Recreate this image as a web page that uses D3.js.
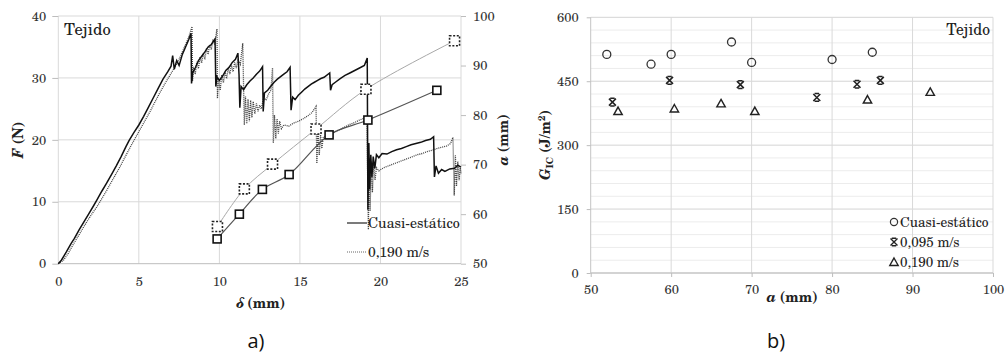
<!DOCTYPE html>
<html>
<head>
<meta charset="utf-8">
<script src="https://cdn.jsdelivr.net/npm/d3@7"></script>
<style>
  body { margin: 0; background: #fff; }
</style>
</head>
<body>
<svg id="chart" width="1006" height="358"></svg>
<script>
// ---- chart a) : F - delta curves (left axis) and crack length a (right axis)
const deltaTicks = [0, 5, 10, 15, 20, 25];
const fTicks = [0, 10, 20, 30, 40];
const aTicks = [50, 60, 70, 80, 90, 100];

// Cuasi-estático, [delta (mm), F (N)]
const cuasiF = [[0,0],[0.2,0.6],[0.5,1.9],[0.8,3.3],[1.0,4.1],[1.3,5.5],[1.6,6.8],[1.9,8.1],[2.2,9.4],[2.4,10.3],
  [2.7,11.7],[3.0,13.0],[3.3,14.4],[3.6,15.8],[3.9,17.3],[4.2,18.9],[4.4,19.9],[4.7,21.2],[5.0,22.4],[5.3,23.8],
  [5.6,25.3],[5.9,26.8],[6.2,28.3],[6.5,29.8],[6.8,31.0],[7.0,31.9],[7.1,33.6],[7.2,31.4],[7.35,32.8],[7.5,32.0],
  [7.7,33.8],[7.9,35.0],[8.1,36.2],[8.24,37.2],[8.27,29.1],[8.35,30.9],[8.5,31.6],[8.7,32.8],[8.9,33.5],[9.1,34.2],
  [9.3,35.0],[9.5,35.4],[9.73,36.3],[9.78,28.6],[9.85,30.2],[10.0,29.6],[10.2,30.3],[10.4,31.2],[10.6,31.7],[10.8,32.5],
  [11.0,33.0],[11.15,34.0],[11.22,30.5],[11.27,25.2],[11.35,28.6],[11.5,28.1],[11.7,28.9],[11.9,29.5],[12.1,30.0],[12.3,30.6],
  [12.5,31.1],[12.68,31.8],[12.72,24.6],[12.8,27.6],[13.0,28.0],[13.2,28.7],[13.4,29.3],[13.6,29.8],[13.8,30.2],[14.0,30.6],
  [14.2,31.0],[14.39,31.7],[14.45,24.8],[14.55,26.9],[14.7,26.5],[14.9,27.2],[15.1,27.7],[15.3,28.2],[15.5,28.6],[15.7,29.0],
  [15.9,29.3],[16.1,29.6],[16.3,29.9],[16.5,30.1],[16.85,30.8],[16.9,28.0],[17.0,28.9],[17.2,29.3],[17.5,29.9],[17.8,30.4],
  [18.1,30.8],[18.4,31.2],[18.7,31.6],[19.0,32.0],[19.18,33.2],[19.22,8.7],[19.28,19.5],[19.33,12.0],[19.4,17.6],[19.47,14.0],
  [19.55,17.3],[19.65,15.4],[19.75,17.6],[19.9,17.1],[20.1,17.8],[20.4,17.7],[20.7,18.1],[21.0,18.4],[21.3,18.6],[21.6,18.9],
  [21.9,19.2],[22.2,19.4],[22.5,19.6],[22.8,19.9],[23.1,20.1],[23.3,20.5],[23.35,14.0],[23.45,15.8],[23.6,14.6],[23.8,15.2],
  [24.0,14.9],[24.3,15.3],[24.6,15.4],[24.8,15.9],[25.0,15.6]];

// 0,190 m/s, [delta (mm), F (N)]
const rapidF = [[0,0],[0.3,0.5],[0.6,1.6],[0.9,3.0],[1.2,4.3],[1.5,5.6],[1.8,6.9],[2.1,8.1],[2.4,9.2],[2.7,10.5],
  [3.0,11.8],[3.3,13.2],[3.6,14.6],[3.9,16.0],[4.2,17.5],[4.5,19.0],[4.8,20.4],[5.1,21.8],[5.4,23.2],[5.7,24.6],
  [6.0,26.1],[6.3,27.6],[6.6,29.0],[6.9,30.3],[7.2,31.6],[7.5,33.0],[7.8,34.8],[8.0,36.0],[8.15,37.0],[8.3,38.3],
  [8.33,29.5],[8.4,31.8],[8.5,30.6],[8.6,32.6],[8.7,31.5],[8.8,33.4],[8.9,32.4],[9.0,34.0],[9.1,33.0],[9.2,34.8],
  [9.3,33.8],[9.4,35.4],[9.5,34.6],[9.6,36.2],[9.7,35.4],[9.85,37.9],[9.88,26.7],[9.95,29.8],[10.05,28.0],[10.15,30.5],
  [10.25,29.2],[10.35,31.0],[10.45,29.9],[10.55,31.6],[10.65,30.6],[10.75,32.1],[10.85,31.0],[10.95,32.5],[11.05,31.6],[11.15,33.0],
  [11.3,32.2],[11.45,35.6],[11.55,22.4],[11.62,27.0],[11.7,22.6],[11.78,26.6],[11.86,23.0],[11.94,26.4],[12.02,23.6],[12.1,26.2],
  [12.2,24.2],[12.3,25.9],[12.4,24.6],[12.5,25.6],[12.6,25.0],[12.75,26.8],[12.9,26.4],[13.05,27.4],[13.2,28.0],[13.3,31.6],
  [13.35,19.5],[13.42,24.0],[13.5,20.2],[13.58,23.4],[13.66,21.0],[13.74,23.0],[13.85,21.8],[14.0,22.4],[14.3,22.2],[14.6,22.7],
  [14.9,23.0],[15.2,23.4],[15.5,23.9],[15.75,24.4],[15.9,25.0],[16.0,25.4],[16.05,16.2],[16.12,21.5],[16.2,17.5],[16.28,20.8],
  [16.36,18.6],[16.45,20.4],[16.6,20.6],[16.9,20.9],[17.2,21.3],[17.5,21.7],[17.8,22.1],[18.1,22.5],[18.4,22.8],[18.7,23.2],
  [19.0,23.5],[19.15,23.9],[19.25,5.5],[19.3,17.0],[19.36,8.5],[19.42,16.5],[19.5,11.5],[19.58,16.2],[19.66,13.5],[19.75,15.5],
  [19.9,15.0],[20.2,15.5],[20.5,15.8],[20.8,16.1],[21.1,16.4],[21.4,16.7],[21.7,17.0],[22.0,17.3],[22.3,17.6],[22.6,17.8],
  [22.9,18.1],[23.2,18.3],[23.5,18.6],[23.8,18.8],[24.1,19.0],[24.35,19.4],[24.5,20.4],[24.58,11.0],[24.65,17.5],[24.72,12.5],
  [24.8,16.5],[24.88,13.5],[24.95,15.5],[25.0,14.6]];

// crack length a (mm) read at some delta values
const cuasiA = [[9.86,55.0],[11.24,60.0],[12.67,65.0],[14.33,68.0],[16.81,76.0],[19.22,79.0],[23.5,85.0]];
const rapidA = [[9.88,57.5],[11.55,65.1],[13.3,70.1],[16.0,77.2],[19.1,85.2],[24.6,95.0]];

// ---- chart b) : G_IC vs a
const aTicksB = [50, 60, 70, 80, 90, 100];
const gTicks = [0, 150, 300, 450, 600];
const gCuasi = [[52.0,513],[57.5,490],[60.0,513],[67.5,542],[70.0,494],[80.0,501],[85.0,518]];
const g095 = [[52.7,401],[59.8,452],[68.6,442],[78.1,412],[83.1,443],[86.0,452]];
const g190 = [[53.4,380],[60.4,386],[66.2,398],[70.4,380],[84.4,407],[92.2,425]];

const svg = d3.select("#chart");
const gridCol = "#d9d9d9";
const serif = '"TeX Gyre Schola", "DejaVu Serif", serif';

// small helper so every label gets the font inline
function label(g, x, y, size, txt) {
  return g.append("text").attr("x", x).attr("y", y)
    .style("font-family", serif).style("font-size", size + "px").style("fill", "#222")
    .text(txt);
}

// ================= chart a =================
const xa = d3.scaleLinear().domain([0, 25]).range([58.3, 461]);
const ya = d3.scaleLinear().domain([0, 40]).range([263.7, 16]);
const yaR = d3.scaleLinear().domain([50, 100]).range([263.7, 16]);

const ga = svg.append("g");

ga.selectAll(".vg").data(deltaTicks).enter().append("line")
  .attr("x1", d => xa(d)).attr("x2", d => xa(d))
  .attr("y1", ya(0)).attr("y2", ya(40))
  .attr("stroke", gridCol).attr("stroke-width", 1);
ga.selectAll(".hg").data(fTicks).enter().append("line")
  .attr("x1", xa(0)).attr("x2", xa(25))
  .attr("y1", d => ya(d)).attr("y2", d => ya(d))
  .attr("stroke", d => d == 0 ? "#bdbdbd" : gridCol).attr("stroke-width", 1);

// axes
const axL = ga.append("g").attr("transform", `translate(${xa(0)},0)`)
  .call(d3.axisLeft(ya).tickValues(fTicks).tickSize(6).tickPadding(6));
const axB = ga.append("g").attr("transform", `translate(0,${ya(0)})`)
  .call(d3.axisBottom(xa).tickValues(deltaTicks).tickSize(0).tickPadding(13));
const axR = ga.append("g").attr("transform", `translate(${xa(25)},0)`)
  .call(d3.axisRight(yaR).tickValues(aTicks).tickSize(5).tickPadding(7));
[axL, axB, axR].forEach(ax => {
  ax.select(".domain").remove();
  ax.selectAll("line").attr("stroke", "#bdbdbd");
  ax.selectAll("text").style("font-family", serif).style("font-size", "13px").style("fill", "#333");
});

// fit lines of a vs delta
const lineR = d3.line().x(d => xa(d[0])).y(d => yaR(d[1])).curve(d3.curveCatmullRom.alpha(0.5));
ga.append("path").attr("d", lineR(rapidA))
  .attr("fill", "none").attr("stroke", "#a8a8a8").attr("stroke-width", 1);
ga.append("path").attr("d", lineR(cuasiA))
  .attr("fill", "none").attr("stroke", "#555").attr("stroke-width", 1.2);

// F curves
const lineF = d3.line().x(d => xa(d[0])).y(d => ya(d[1]));
ga.append("path").attr("d", lineF(rapidF))
  .attr("fill", "none").attr("stroke", "#444").attr("stroke-width", 1.3)
  .attr("stroke-dasharray", "1,1");
ga.append("path").attr("d", lineF(cuasiF))
  .attr("fill", "none").attr("stroke", "#111").attr("stroke-width", 1.5);

// square markers
ga.selectAll(".sqR").data(rapidA).enter().append("rect")
  .attr("x", d => xa(d[0]) - 5).attr("y", d => yaR(d[1]) - 5)
  .attr("width", 10).attr("height", 10)
  .attr("fill", "#fff").attr("stroke", "#222").attr("stroke-width", 1.6)
  .attr("stroke-dasharray", "2,1.6");
ga.selectAll(".sqC").data(cuasiA).enter().append("rect")
  .attr("x", d => xa(d[0]) - 4).attr("y", d => yaR(d[1]) - 4)
  .attr("width", 8).attr("height", 8)
  .attr("fill", "#fff").attr("stroke", "#111").attr("stroke-width", 1.6);

// legend a
ga.append("line").attr("x1", 347).attr("x2", 367).attr("y1", 223).attr("y2", 223)
  .attr("stroke", "#333").attr("stroke-width", 1.3);
label(ga, 368, 227.5, 14, "Cuasi-estático");
ga.append("line").attr("x1", 347).attr("x2", 367).attr("y1", 252).attr("y2", 252)
  .attr("stroke", "#666").attr("stroke-width", 1).attr("stroke-dasharray", "1,1");
label(ga, 368, 256.5, 14, "0,190 m/s");

label(ga, 64, 35, 16.5, "Tejido");

// axis titles
label(ga, 0, 0, 14, null).attr("transform", "translate(23,140) rotate(-90)")
  .attr("text-anchor", "middle").style("font-weight", "bold")
  .html('<tspan font-style="italic">F</tspan> (N)');
label(ga, 260, 308, 14, null)
  .attr("text-anchor", "middle").style("font-weight", "bold")
  .html('<tspan font-style="italic">δ</tspan> (mm)');
label(ga, 0, 0, 14, null).attr("transform", "translate(508,140) rotate(-90)")
  .attr("text-anchor", "middle").style("font-weight", "bold")
  .html('<tspan font-style="italic">a</tspan> (mm)');

// ================= chart b =================
const xb = d3.scaleLinear().domain([50, 100]).range([590.7, 993]);
const yb = d3.scaleLinear().domain([0, 600]).range([273, 17.3]);
const gb = svg.append("g");

gb.selectAll(".minor").data(d3.range(0, 601, 30)).enter().append("line")
  .attr("x1", xb(50)).attr("x2", xb(100))
  .attr("y1", d => yb(d)).attr("y2", d => yb(d))
  .attr("stroke", d => d % 150 == 0 ? "#d4d4d4" : "#ececec").attr("stroke-width", 1);
gb.selectAll(".vg").data(aTicksB).enter().append("line")
  .attr("x1", d => xb(d)).attr("x2", d => xb(d))
  .attr("y1", yb(0)).attr("y2", yb(600))
  .attr("stroke", d => d == 50 ? "#c4c4c4" : gridCol).attr("stroke-width", 1);
gb.append("line").attr("x1", xb(50)).attr("x2", xb(100)).attr("y1", yb(0)).attr("y2", yb(0))
  .attr("stroke", "#bdbdbd");

const bxL = gb.append("g").attr("transform", `translate(${xb(50)},0)`)
  .call(d3.axisLeft(yb).tickValues(gTicks).tickSize(4).tickPadding(8));
const bxB = gb.append("g").attr("transform", `translate(0,${yb(0)})`)
  .call(d3.axisBottom(xb).tickValues(aTicksB).tickSize(4).tickPadding(8));
[bxL, bxB].forEach(ax => {
  ax.select(".domain").remove();
  ax.selectAll("line").attr("stroke", "#bdbdbd");
  ax.selectAll("text").style("font-family", serif).style("font-size", "13px").style("fill", "#333");
});

// markers
const starPath = "M-3.5,-3.5L3.5,3.5M3.5,-3.5L-3.5,3.5M-2.2,-3.8L2.2,-3.8M-2.2,3.8L2.2,3.8";
const triPath = "M0,-4L4.2,3.5L-4.2,3.5Z";

gb.selectAll(".circ").data(gCuasi).enter().append("circle")
  .attr("cx", d => xb(d[0])).attr("cy", d => yb(d[1])).attr("r", 4)
  .attr("fill", "none").attr("stroke", "#333").attr("stroke-width", 1.3);
gb.selectAll(".star").data(g095).enter().append("path")
  .attr("transform", d => `translate(${xb(d[0])},${yb(d[1])})`)
  .attr("d", starPath).attr("fill", "none").attr("stroke", "#222").attr("stroke-width", 1.5);
gb.selectAll(".tri").data(g190).enter().append("path")
  .attr("transform", d => `translate(${xb(d[0])},${yb(d[1])})`)
  .attr("d", triPath).attr("fill", "none").attr("stroke", "#222").attr("stroke-width", 1.4);

// legend b
const legB = [["Cuasi-estático", "c"], ["0,095 m/s", "s"], ["0,190 m/s", "t"]];
legB.forEach((l, i) => {
  const yy = 222 + i * 20;
  const g = gb.append("g").attr("transform", `translate(894,${yy})`);
  if (l[1] == "c") g.append("circle").attr("r", 3.6).attr("fill", "none").attr("stroke", "#333").attr("stroke-width", 1.2);
  if (l[1] == "s") g.append("path").attr("d", starPath).attr("fill", "none").attr("stroke", "#222").attr("stroke-width", 1.4);
  if (l[1] == "t") g.append("path").attr("d", triPath).attr("fill", "none").attr("stroke", "#222").attr("stroke-width", 1.4);
  label(gb, 900, yy + 4.5, 13.5, l[0]);
});

label(gb, 990, 35, 15.5, "Tejido").attr("text-anchor", "end");

label(gb, 0, 0, 14, null).attr("transform", "translate(550,145) rotate(-90)")
  .attr("text-anchor", "middle").style("font-weight", "bold")
  .html('<tspan font-style="italic">G</tspan><tspan font-size="9.5" dy="3">IC</tspan><tspan dy="-3"> (J/m</tspan><tspan font-size="9.5" dy="-5">2</tspan><tspan dy="5">)</tspan>');
label(gb, 792, 302, 14, null)
  .attr("text-anchor", "middle").style("font-weight", "bold")
  .html('<tspan font-style="italic">a</tspan> (mm)');

// panel captions
svg.append("text").attr("x", 256).attr("y", 348).attr("text-anchor", "middle")
  .style("font-family", '"Open Sans", sans-serif').style("font-size", "20px").style("fill", "#111").text("a)");
svg.append("text").attr("x", 776).attr("y", 348).attr("text-anchor", "middle")
  .style("font-family", '"Open Sans", sans-serif').style("font-size", "20px").style("fill", "#111").text("b)");
</script>
</body>
</html>
